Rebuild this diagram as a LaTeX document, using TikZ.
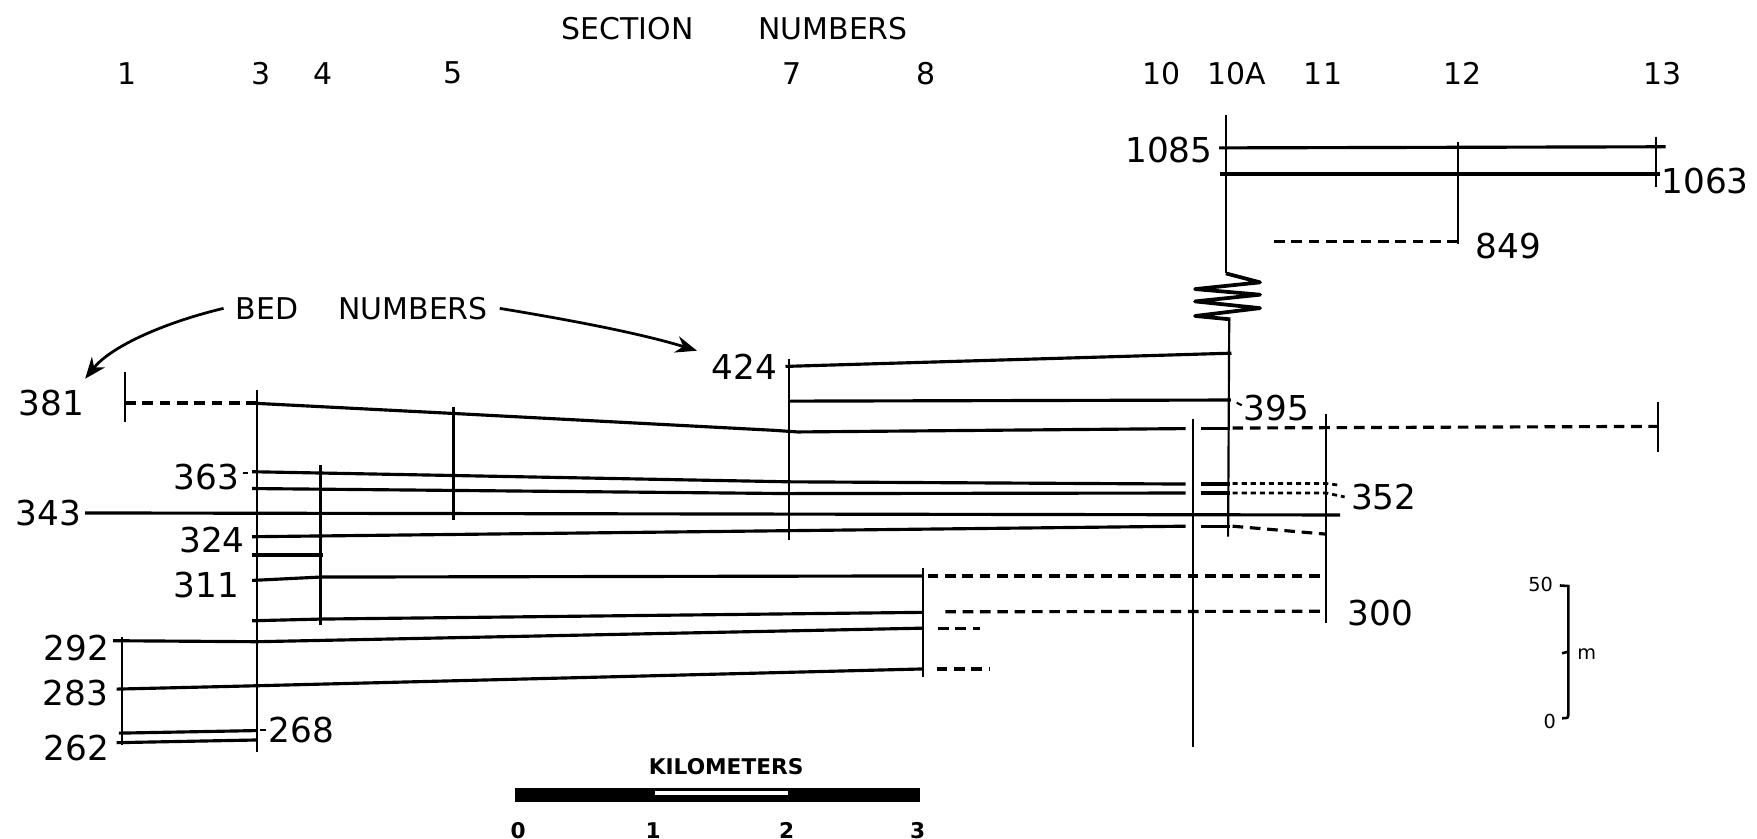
\documentclass[tikz,border=0pt]{standalone}
\usepackage{fontspec}
\setmainfont{DejaVu Sans}
\usepackage{tikz}
\usetikzlibrary{arrows.meta}

\begin{document}
\begin{tikzpicture}[x=0.1mm,y=-0.1mm,
  bed/.style={line width=0.8pt},
  sect/.style={line width=0.55pt},
  dsh/.style={line width=0.8pt,dash pattern=on 2.7pt off 1.7pt},
  dot/.style={line width=0.7pt,dash pattern=on 1.3pt off 1pt},
  arr/.style={line width=0.7pt,-{Stealth[length=1.9mm,width=1.5mm]}},
  num/.style={inner sep=0pt,font=\fontsize{8.7}{9}\selectfont},
  head/.style={inner sep=0pt,font=\fontsize{7.6}{8}\selectfont},
  tiny/.style={inner sep=0pt,font=\fontsize{4.9}{5}\selectfont},
  kmtext/.style={inner sep=0pt,font=\fontsize{5.5}{6}\selectfont\bfseries}]
  \useasboundingbox (0,0) rectangle (1568,748);

  % headings
  \node[head] (title) at (655.6,25.3) {SECTION\hspace{5.8mm}NUMBERS};
  \foreach \n/\x in {1/113.7,3/233,4/288,5/404.7,7/706.9,8/826.8,10/1036.3,10A/1103.4,11/1180.7,12/1304.8,13/1484}
    \node[head] (s\n) at (\x,65.4) {\n};

  % section columns
  \draw[sect] (111.5,332) -- (111.5,377);
  \draw[sect] (108.6,568.4) -- (108.6,665);
  \draw[sect] (229,348) -- (229,671);
  \draw[sect] (286,415) -- (286,558);
  \draw[sect] (404.7,363) -- (404.7,464);
  \draw[sect] (704.4,320) -- (704.4,482);
  \draw[sect] (823.5,507) -- (823.5,604);
  \draw[sect] (1064.7,374) -- (1064.7,666.5);
  \draw[sect] (1094,102.6) -- (1094,244);
  \draw[sect] (1097,285) -- (1096,479);
  \draw[line width=0.95pt,line join=round] (1094,244) -- (1124.5,252) -- (1066.5,258) -- (1124.5,263)
    -- (1066.5,269) -- (1124.5,275) -- (1066.5,282) -- (1098,285);
  \draw[sect] (1183.5,369.5) -- (1183.5,556);
  \draw[sect] (1301,127) -- (1301,217.8);
  \draw[sect] (1478,122) -- (1478,166.6);
  \draw[sect] (1480,358.5) -- (1480,403);

  % beds
  \draw[bed] (1088,132) -- (1486.5,131);
  \draw[bed] (1089,155.3) -- (1481,155.3);
  \draw[dsh] (1137,215.7) -- (1301,215.7);
  \draw[bed] (701,327) -- (1099,315.2);
  \draw[bed] (704.4,358) -- (1098.5,357);
  \draw[dsh] (111.5,359.7) -- (229,359.7);
  \draw[bed] (229,360) -- (404.7,369) -- (690,384) -- (712,385.5) -- (1058,382.5);
  \draw[bed] (1072,382.5) -- (1098,382.5);
  \draw[dsh] (1100,382) -- (1480,380.5);
  \draw[bed] (225,421) -- (704.4,430) -- (1058,432);
  \draw[bed] (1072,432) -- (1098,432);
  \draw[dot] (1100,431.5) -- (1183.5,431.5) -- (1195,433);
  \draw[bed] (225,436) -- (704.4,440.5) -- (1058,440);
  \draw[bed] (1072,440) -- (1098,440);
  \draw[dot] (1100,440) -- (1183.5,440) -- (1200,443.5);
  \draw[bed] (76,457.8) -- (1196,459.6);
  \draw[bed] (225,479) -- (704.4,473.6) -- (1058,469.6);
  \draw[bed] (1072,469.6) -- (1098,469.6);
  \draw[dsh] (1100,469.6) -- (1183.5,476.7);
  \draw[bed] (225,495.3) -- (288.6,495.3);
  \draw[bed] (225,518) -- (286,515) -- (823.5,514);
  \draw[dsh] (828,514) -- (1183.5,514);
  \draw[bed] (225,554) -- (286,552.5) -- (823.5,546.5);
  \draw[dsh] (843.6,546) -- (1183.5,545.5);
  \draw[bed] (101,571.8) -- (229,572.7) -- (823.5,560.6);
  \draw[dsh] (837,560.6) -- (874.6,560.6);
  \draw[bed] (104,615) -- (229,612) -- (823.5,597);
  \draw[dsh] (836,597) -- (883.5,597);
  \draw[bed] (106,654.3) -- (229,652);
  \draw[bed] (104,662.8) -- (229,660.4);

  % bed numbers
  \node[num,anchor=east] (b381) at (76,360) {381};
  \node[num,anchor=east] (b424) at (694,327) {424};
  \node[num,anchor=west] (b395) at (1109,364) {395};
  \node[num,anchor=east] (b363) at (214,425.5) {363};
  \node[num,anchor=west] (b352) at (1205,443.5) {352};
  \node[num,anchor=east] (b343) at (73,458) {343};
  \node[num,anchor=east] (b324) at (219,482) {324};
  \node[num,anchor=east] (b311) at (214,522) {311};
  \node[num,anchor=west] (b300) at (1202,547) {300};
  \node[num,anchor=east] (b292) at (98,578.5) {292};
  \node[num,anchor=east] (b283) at (97,618.6) {283};
  \node[num,anchor=west] (b268) at (239,651.5) {268};
  \node[num,anchor=east] (b262) at (98,667.8) {262};
  \node[num,anchor=east] (b1085) at (1082.7,133.9) {1085};
  \node[num,anchor=west] (b1063) at (1482,162) {1063};
  \node[num,anchor=west] (b849) at (1316.5,220) {849};
  \draw[sect] (216.5,422.5) -- (221,422.5);
  \draw[sect] (232,651.5) -- (237,651.5);
  \draw[sect] (1103.7,359.4) -- (1108.2,361.7);

  % pointer
  \node[head,inner xsep=1mm] (bed) at (322.75,275.2) {BED\hspace{3.6mm}NUMBERS};
  \coordinate (t381) at (76,338);
  \coordinate (t424) at (622,313);
  \draw[arr] (bed.west) .. controls (150,287) and (100,308) .. (t381);
  \draw[arr] (bed.east) .. controls (505,285) and (570,297) .. (t424);

  % vertical scale
  \node[tiny] (m50) at (1375,522) {50};
  \node[tiny] (m0) at (1383,644) {0};
  \node[tiny] (mu) at (1416,584) {m};
  \draw[line width=0.65pt] (1392,522.5) -- (1399.6,523) -- (1399.6,636) .. controls (1399.6,641) .. (1394,641);
  \draw[line width=0.65pt] (1399.6,581.6) -- (1394,583);

  % horizontal scale
  \node[kmtext] (km) at (648,684.5) {KILOMETERS};
  \fill (459.6,703.5) rectangle (821,715.5);
  \fill[white] (584.3,705.6) rectangle (703.5,709.5);
  \foreach \k/\x in {0/462.5,1/583,2/702,3/819}
    \node[kmtext] (k\k) at (\x,741) {\k};
\end{tikzpicture}
\end{document}
